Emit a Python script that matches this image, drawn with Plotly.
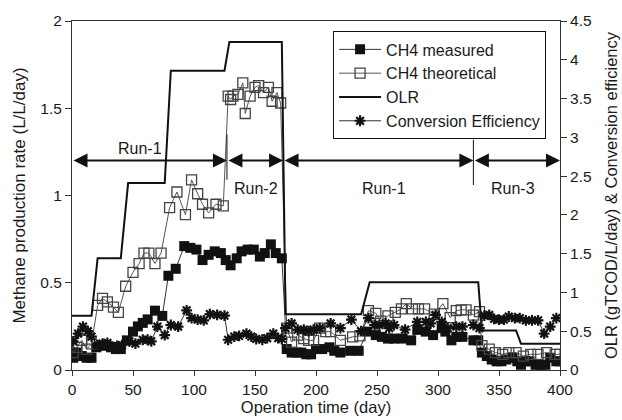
import plotly.graph_objects as go

# ---------------- data ----------------
meas_day = [1, 4, 8, 12, 16, 20, 24, 28, 32, 36, 40, 45, 50, 54, 58, 62, 68, 74, 79, 85,
            92, 97, 102, 107, 112, 117, 122, 126, 130, 135, 139, 144, 149, 154, 158, 163, 167, 172,
            176, 180, 184, 188, 192, 196, 200, 205, 211, 215, 220, 228, 235, 242, 249, 254, 259,
            264, 271, 278, 283, 290, 296, 303, 306, 311, 315, 320, 329, 333, 336, 340, 344, 348,
            352, 356, 361, 365, 368, 372, 375, 380, 384, 388, 392, 397, 400]
meas_val = [0.07, 0.10, 0.08, 0.07, 0.07, 0.13, 0.14, 0.14, 0.13, 0.12, 0.12, 0.17, 0.22, 0.25, 0.27,
            0.29, 0.34, 0.31, 0.54, 0.58, 0.71, 0.70, 0.69, 0.63, 0.66, 0.68, 0.67, 0.63, 0.60, 0.64,
            0.68, 0.69, 0.69, 0.65, 0.67, 0.72, 0.67, 0.64,
            0.12, 0.10, 0.10, 0.10, 0.09, 0.09, 0.12, 0.12, 0.13, 0.11, 0.10, 0.11, 0.11, 0.22, 0.20,
            0.19, 0.18, 0.18, 0.18, 0.17, 0.23, 0.22, 0.20, 0.24, 0.22, 0.17, 0.19, 0.19, 0.17, 0.17,
            0.10, 0.08, 0.06, 0.05, 0.05, 0.06, 0.07, 0.05, 0.03, 0.05, 0.05, 0.03, 0.03, 0.03, 0.07,
            0.05, 0.05]

theo_day = [1, 4, 8, 12, 16, 21, 25, 29, 34, 38, 44, 50, 55, 59, 63, 68, 73, 80, 86, 93, 98, 103,
            107, 112, 118, 124, 128, 130, 132, 136, 140, 142, 146, 150, 153, 157, 161, 164, 168, 171,
            176, 180, 185, 190, 194, 198, 203, 208, 212, 220, 230, 236, 243, 249, 253, 259, 265, 270,
            274, 279, 284, 289, 297, 304, 310, 315, 319, 323, 329, 334, 336, 342, 347, 353, 358, 364,
            370, 376, 382, 389, 396, 400]
theo_val = [0.10, 0.13, 0.17, 0.12, 0.15, 0.37, 0.41, 0.39, 0.36, 0.33, 0.48, 0.56, 0.61, 0.67, 0.67,
            0.61, 0.67, 0.93, 1.02, 0.89, 1.09, 1.01, 0.95, 0.90, 0.95, 0.94, 1.57, 1.55, 1.57, 1.58,
            1.645, 1.47, 1.57, 1.62, 1.63, 1.59, 1.62, 1.54, 1.59, 1.53,
            0.24, 0.16, 0.20, 0.18, 0.17, 0.17, 0.24, 0.22, 0.22, 0.17, 0.19, 0.195, 0.34, 0.325, 0.28,
            0.31, 0.33, 0.35, 0.38, 0.35, 0.35, 0.35, 0.32, 0.38, 0.30, 0.34, 0.345, 0.345, 0.315,
            0.335, 0.14, 0.12, 0.10, 0.09, 0.10, 0.10, 0.08, 0.09, 0.09, 0.10, 0.09, 0.09]

olr_day = [0, 16, 21, 40, 46, 76, 81, 125, 129, 172, 175, 237, 244, 333, 336, 364, 368, 400]
olr_val = [0.70, 0.70, 1.44, 1.44, 2.41, 2.41, 3.86, 3.86, 4.23, 4.23, 0.72, 0.72, 1.13, 1.13,
           0.51, 0.51, 0.34, 0.34]

eff_day = [1, 5, 9, 13, 16, 21, 25, 29, 33, 37, 41, 47, 52, 58, 62, 65, 70, 76, 81, 87, 94, 98,
           103, 108, 113, 119, 125, 128, 133, 137, 143, 147, 151, 156, 160, 165, 169, 172, 175, 180,
           185, 190, 194, 198, 203, 212, 220, 229, 237, 243, 248, 252, 257, 260, 264, 273, 283, 290,
           294, 298, 303, 308, 315, 320, 329, 334, 338, 342, 346, 350, 354, 358, 363, 367, 372, 377,
           382, 387, 392, 397]
eff_val = [0.37, 0.47, 0.56, 0.50, 0.43, 0.32, 0.34, 0.35, 0.30, 0.31, 0.32, 0.37, 0.34, 0.39, 0.39,
           0.37, 0.56, 0.45, 0.58, 0.56, 0.77, 0.67, 0.65, 0.64, 0.72, 0.71, 0.70, 0.39, 0.43, 0.44,
           0.47, 0.43, 0.40, 0.39, 0.41, 0.47, 0.41, 0.40, 0.54, 0.60, 0.52, 0.52, 0.50, 0.52, 0.54,
           0.60, 0.54, 0.65, 0.50, 0.67, 0.58, 0.58, 0.60, 0.54, 0.58, 0.52, 0.62, 0.62, 0.60, 0.71,
           0.62, 0.54, 0.56, 0.56, 0.58, 0.54, 0.70, 0.71, 0.66, 0.65, 0.65, 0.69, 0.67, 0.67, 0.64,
           0.64, 0.64, 0.47, 0.56, 0.67]

# run annotations (day ranges, labels)
run_bounds = [0, 127, 173, 329, 400]
run_labels = ["Run-1", "Run-2", "Run-1", "Run-3"]
run_label_day = [55.5, 151, 256, 361.5]
run_label_y = [1.27, 1.04, 1.04, 1.04]
arrow_y = 1.2
divider_day = [127, 329]
divider_y0 = [1.09, 1.06]
divider_y1 = [1.35, 1.32]

FONT = "Liberation Sans, Arial, Helvetica, sans-serif"
TXT = "#1a1a1a"

fig = go.Figure()

fig.add_trace(go.Scatter(
    x=meas_day, y=meas_val, name="CH4 measured", mode="lines+markers",
    line=dict(color="#333333", width=1),
    marker=dict(symbol="square", size=10, color="#111111", line=dict(color="#111111", width=0)),
))
fig.add_trace(go.Scatter(
    x=theo_day, y=theo_val, name="CH4 theoretical", mode="lines+markers",
    line=dict(color="#555555", width=1),
    marker=dict(symbol="square-open", size=10, color="#444444", line=dict(width=1.3)),
))
fig.add_trace(go.Scatter(
    x=olr_day, y=olr_val, name="OLR", mode="lines", yaxis="y2",
    line=dict(color="#111111", width=2),
))
fig.add_trace(go.Scatter(
    x=eff_day, y=eff_val, name="Conversion Efficiency", mode="lines+markers", yaxis="y2",
    line=dict(color="#333333", width=1),
    marker=dict(symbol="asterisk-open", size=9, color="#111111", line=dict(width=2.2, color="#111111")),
))

# run arrows
for i in range(len(run_labels)):
    fig.add_annotation(
        x=run_bounds[i + 1], y=arrow_y, ax=run_bounds[i], ay=arrow_y,
        xref="x", yref="y", axref="x", ayref="y",
        showarrow=True, arrowhead=2, arrowside="end+start", arrowsize=1.4,
        arrowwidth=2, arrowcolor="#111111", text="",
    )
    fig.add_annotation(
        x=run_label_day[i], y=run_label_y[i], xref="x", yref="y", text=run_labels[i],
        showarrow=False, font=dict(family=FONT, size=16, color=TXT),
    )
for i in range(len(divider_day)):
    fig.add_shape(type="line", xref="x", yref="y", x0=divider_day[i], x1=divider_day[i],
                  y0=divider_y0[i], y1=divider_y1[i], line=dict(color="#111111", width=1))

fig.update_layout(
    width=622, height=420,
    margin=dict(l=72, r=62, t=21, b=50, autoexpand=False),
    paper_bgcolor="white", plot_bgcolor="white",
    font=dict(family=FONT, size=15.5, color=TXT),
    showlegend=True,
    legend=dict(
        x=0.535, y=0.97, xanchor="left", yanchor="top",
        bgcolor="white", bordercolor="#111111", borderwidth=1,
        font=dict(family=FONT, size=16, color=TXT),
        tracegroupgap=0, itemwidth=42,
    ),
    xaxis=dict(
        range=[0, 400], tickvals=[0, 50, 100, 150, 200, 250, 300, 350, 400],
        showgrid=False, zeroline=False, showline=True, linecolor="#333333", linewidth=1,
        mirror=True, ticks="outside", ticklen=5, tickcolor="#333333", automargin=False,
        title=dict(text="Operation time (day)", font=dict(size=16.5), standoff=4),
    ),
    yaxis=dict(
        range=[0, 2], tickvals=[0, 0.5, 1, 1.5, 2], ticktext=["0", "0.5", "1", "1.5", "2"],
        showgrid=False, zeroline=False, showline=True, linecolor="#333333", linewidth=1,
        ticks="outside", ticklen=6, tickcolor="#333333", automargin=False,
        title=dict(text="Methane production rate (L/L/day)", font=dict(size=17), standoff=10),
    ),
    yaxis2=dict(
        range=[0, 4.5], tickvals=[0, 0.5, 1, 1.5, 2, 2.5, 3, 3.5, 4, 4.5],
        ticktext=["0", "0.5", "1", "1.5", "2", "2.5", "3", "3.5", "4", "4.5"],
        overlaying="y", side="right",
        showgrid=False, zeroline=False, showline=True, linecolor="#333333", linewidth=1,
        ticks="outside", ticklen=6, tickcolor="#333333", automargin=False,
        title=dict(text="OLR (gTCOD/L/day) & Conversion efficiency", font=dict(size=16.5), standoff=14),
    ),
)

fig.write_html("out.html")
